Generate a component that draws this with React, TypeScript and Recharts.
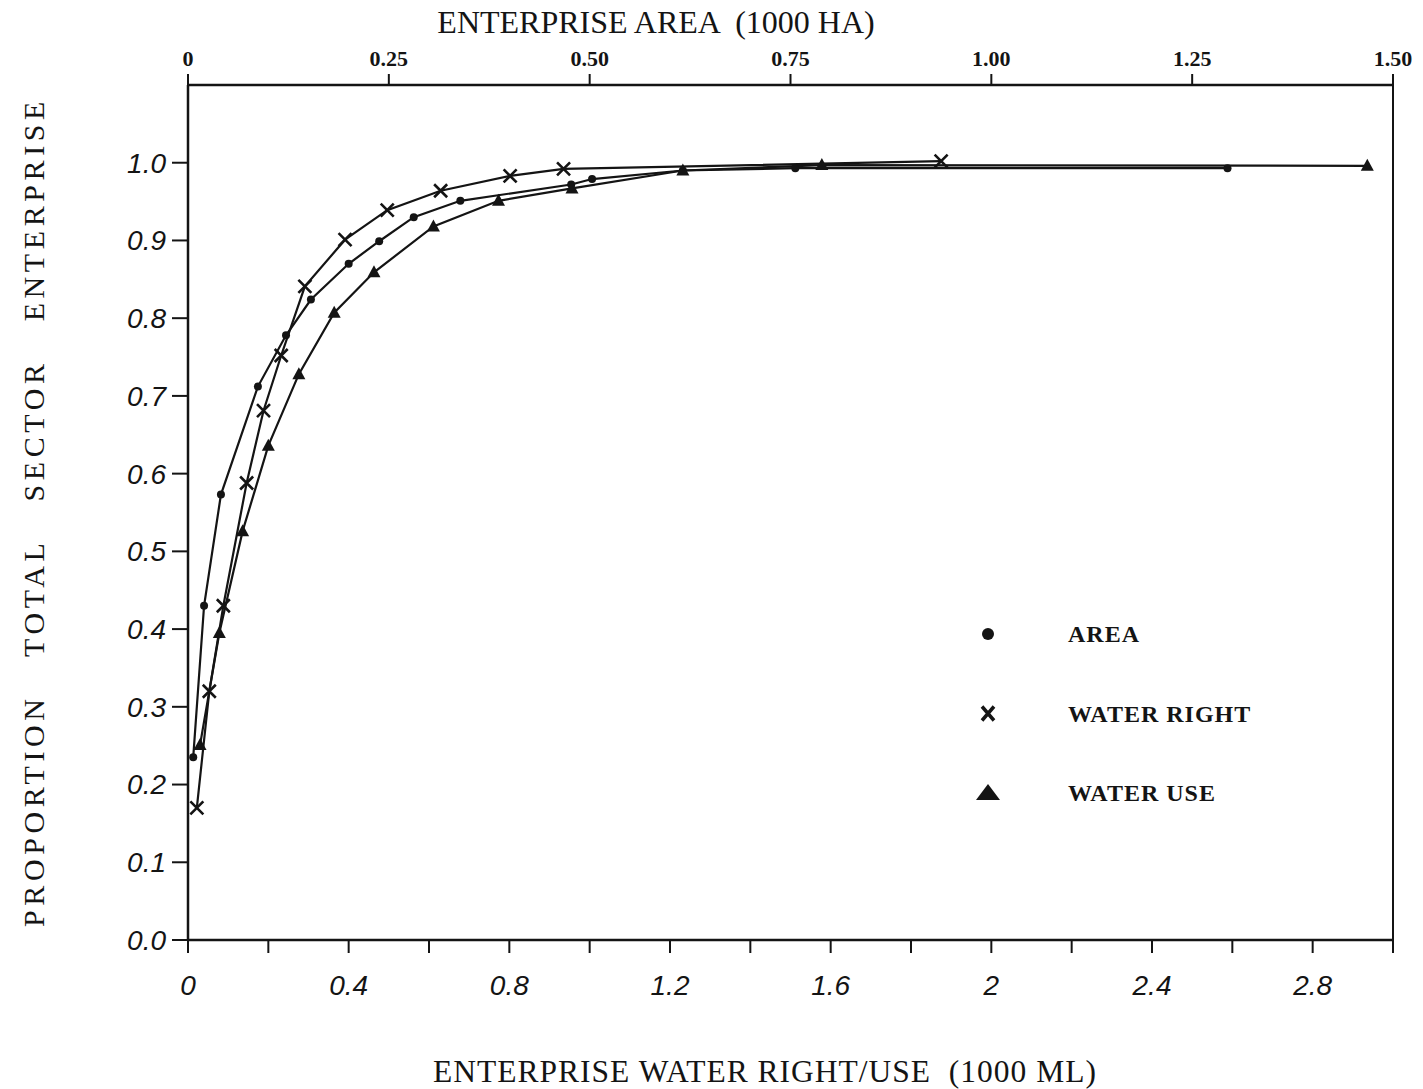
import React from "react";
import { LineChart, Line, XAxis, YAxis, Legend } from "recharts";

// AREA series: x in 1000 HA (top axis), y = proportion
const areaHa = [0.0065, 0.02, 0.041, 0.087, 0.122, 0.153, 0.2, 0.238, 0.281, 0.339, 0.477, 0.503, 0.616, 0.756, 1.294];
const areaProp = [0.235, 0.43, 0.573, 0.712, 0.778, 0.824, 0.87, 0.899, 0.93, 0.951, 0.972, 0.979, 0.99, 0.993, 0.993];

// WATER RIGHT series: x in 1000 ML (bottom axis)
const waterRightMl = [0.022, 0.053, 0.088, 0.146, 0.188, 0.232, 0.291, 0.391, 0.496, 0.629, 0.802, 0.935, 1.875];
const waterRightProp = [0.17, 0.32, 0.43, 0.588, 0.681, 0.752, 0.841, 0.901, 0.939, 0.964, 0.983, 0.992, 1.002];

// WATER USE series: x in 1000 ML (bottom axis)
const waterUseMl = [0.03, 0.078, 0.136, 0.2, 0.276, 0.364, 0.463, 0.611, 0.773, 0.956, 1.232, 1.578, 2.936];
const waterUseProp = [0.251, 0.395, 0.526, 0.636, 0.728, 0.807, 0.859, 0.918, 0.951, 0.967, 0.99, 0.997, 0.996];

const bottomTicks = [0, 0.2, 0.4, 0.6, 0.8, 1.0, 1.2, 1.4, 1.6, 1.8, 2.0, 2.2, 2.4, 2.6, 2.8, 3.0];
const bottomLabelled = [0, 0.4, 0.8, 1.2, 1.6, 2.0, 2.4, 2.8];
const topTicks = [0, 0.25, 0.5, 0.75, 1.0, 1.25, 1.5];
const yTicks = [0, 0.1, 0.2, 0.3, 0.4, 0.5, 0.6, 0.7, 0.8, 0.9, 1.0];

const legendItems = [
  { label: "AREA", shape: "circle" },
  { label: "WATER RIGHT", shape: "cross" },
  { label: "WATER USE", shape: "triangle" },
];

const toPoints = (xs: number[], ys: number[]) => xs.map((x, i) => ({ x, y: ys[i] }));
const areaData = toPoints(areaHa, areaProp);
const waterRightData = toPoints(waterRightMl, waterRightProp);
const waterUseData = toPoints(waterUseMl, waterUseProp);

const INK = "#141414";
const serif = "'Liberation Serif', 'DejaVu Serif', serif";
const sans = "'Liberation Sans', 'DejaVu Sans', sans-serif";

const CircleDot = (p: any) => {
  if (p.cx == null || p.cy == null) return <g key={`c${p.index}`} />;
  return <circle key={`c${p.index}`} cx={p.cx} cy={p.cy} r={4} fill={INK} />;
};
const CrossDot = (p: any) => {
  if (p.cx == null || p.cy == null) return <g key={`x${p.index}`} />;
  const s = 6.5;
  const { cx, cy } = p;
  return (
    <path
      key={`x${p.index}`}
      d={`M${cx - s},${cy - s}L${cx + s},${cy + s}M${cx + s},${cy - s}L${cx - s},${cy + s}`}
      stroke={INK}
      strokeWidth={2.6}
      fill="none"
    />
  );
};
const TriDot = (p: any) => {
  if (p.cx == null || p.cy == null) return <g key={`t${p.index}`} />;
  const { cx, cy } = p;
  return (
    <path key={`t${p.index}`} d={`M${cx},${cy - 7}L${cx + 6.5},${cy + 5}L${cx - 6.5},${cy + 5}Z`} fill={INK} />
  );
};

const LegendMarker = ({ shape, cx, cy }: { shape: string; cx: number; cy: number }) => {
  if (shape === "circle") return <circle cx={cx} cy={cy} r={6} fill={INK} />;
  if (shape === "cross")
    return (
      <path
        d={`M${cx - 6},${cy - 7}L${cx + 6},${cy + 7}M${cx + 6},${cy - 7}L${cx - 6},${cy + 7}`}
        stroke={INK}
        strokeWidth={3.5}
        fill="none"
      />
    );
  return <path d={`M${cx},${cy - 9}L${cx + 12},${cy + 7}L${cx - 12},${cy + 7}Z`} fill={INK} />;
};

const renderLegend = () => (
  <svg width={330} height={230}>
    {legendItems.map((it, i) => {
      const cy = 34 + i * 79.5;
      return (
        <g key={it.label}>
          <LegendMarker shape={it.shape} cx={28} cy={cy} />
          <text x={108} y={cy + 8} fontFamily={serif} fontSize={24} fontWeight="bold" fill={INK} letterSpacing={1}>
            {it.label}
          </text>
        </g>
      );
    })}
  </svg>
);

const fmtBottom = (v: number) => {
  const hit = bottomLabelled.some((b) => Math.abs(b - v) < 1e-6);
  return hit ? String(Number(v.toFixed(1))) : "";
};
const fmtTop = (v: number) => (v === 0 ? "0" : v.toFixed(2));
const fmtY = (v: number) => v.toFixed(1);

export default function App() {
  return (
    <div style={{ position: "relative", width: 1423, height: 1089, background: "#fff" }}>
      <style>{"body{margin:0;background:#fff}"}</style>
      <LineChart width={1423} height={1089} margin={{ top: 25, right: 29, bottom: 69, left: 0 }}>
        <XAxis
          xAxisId="bottom"
          orientation="bottom"
          type="number"
          dataKey="x"
          domain={[0, 3]}
          ticks={bottomTicks}
          interval={0}
          tickFormatter={fmtBottom}
          height={80}
          tickSize={13}
          tickMargin={22}
          axisLine={{ stroke: INK, strokeWidth: 2.5 }}
          tickLine={{ stroke: INK, strokeWidth: 2 }}
          tick={{ fill: INK, fontSize: 28, fontStyle: "italic", fontFamily: sans }}
        />
        <XAxis
          xAxisId="top"
          orientation="top"
          type="number"
          dataKey="x"
          domain={[0, 1.5]}
          ticks={topTicks}
          interval={0}
          tickFormatter={fmtTop}
          height={60}
          tickSize={11}
          tickMargin={8}
          axisLine={{ stroke: INK, strokeWidth: 2.5 }}
          tickLine={{ stroke: INK, strokeWidth: 2 }}
          tick={{ fill: INK, fontSize: 22, fontFamily: serif, fontWeight: "bold" }}
        />
        <YAxis
          yAxisId="left"
          type="number"
          domain={[0, 1.1]}
          ticks={yTicks}
          interval={0}
          tickFormatter={fmtY}
          width={188}
          tickSize={16}
          tickMargin={6}
          axisLine={{ stroke: INK, strokeWidth: 2.5 }}
          tickLine={{ stroke: INK, strokeWidth: 2 }}
          tick={{ fill: INK, fontSize: 28, fontStyle: "italic", fontFamily: sans }}
        />
        <YAxis
          yAxisId="right"
          orientation="right"
          type="number"
          domain={[0, 1.1]}
          width={1}
          tick={false}
          tickLine={false}
          axisLine={{ stroke: INK, strokeWidth: 2 }}
        />
        <Line
          xAxisId="top"
          yAxisId="left"
          data={areaData}
          dataKey="y"
          type="linear"
          stroke={INK}
          strokeWidth={2.2}
          dot={CircleDot}
          activeDot={false}
          isAnimationActive={false}
          name="AREA"
        />
        <Line
          xAxisId="bottom"
          yAxisId="left"
          data={waterRightData}
          dataKey="y"
          type="linear"
          stroke={INK}
          strokeWidth={2.2}
          dot={CrossDot}
          activeDot={false}
          isAnimationActive={false}
          name="WATER RIGHT"
        />
        <Line
          xAxisId="bottom"
          yAxisId="left"
          data={waterUseData}
          dataKey="y"
          type="linear"
          stroke={INK}
          strokeWidth={2.2}
          dot={TriDot}
          activeDot={false}
          isAnimationActive={false}
          name="WATER USE"
        />
        <Legend
          layout="vertical"
          align="center"
          verticalAlign="middle"
          content={renderLegend}
          wrapperStyle={{ position: "absolute", left: 960, top: 600, width: 330, height: 230 }}
        />
      </LineChart>
      <svg
        width={1423}
        height={1089}
        style={{ position: "absolute", left: 0, top: 0, pointerEvents: "none" }}
      >
        <text
          x={656}
          y={33}
          textAnchor="middle"
          fontFamily={serif}
          fontSize={32}
          fill={INK}
          style={{ whiteSpace: "pre" }}
        >
          {"ENTERPRISE AREA  (1000 HA)"}
        </text>
        <text
          x={765}
          y={1082}
          textAnchor="middle"
          fontFamily={serif}
          fontSize={31.5}
          fill={INK}
          letterSpacing={1}
          style={{ whiteSpace: "pre" }}
        >
          {"ENTERPRISE WATER RIGHT/USE  (1000 ML)"}
        </text>
        <text
          x={0}
          y={0}
          transform="translate(44,512) rotate(-90)"
          textAnchor="middle"
          fontFamily={serif}
          fontSize={30}
          fill={INK}
          letterSpacing={4.6}
          wordSpacing={26}
        >
          PROPORTION TOTAL SECTOR ENTERPRISE
        </text>
      </svg>
    </div>
  );
}
